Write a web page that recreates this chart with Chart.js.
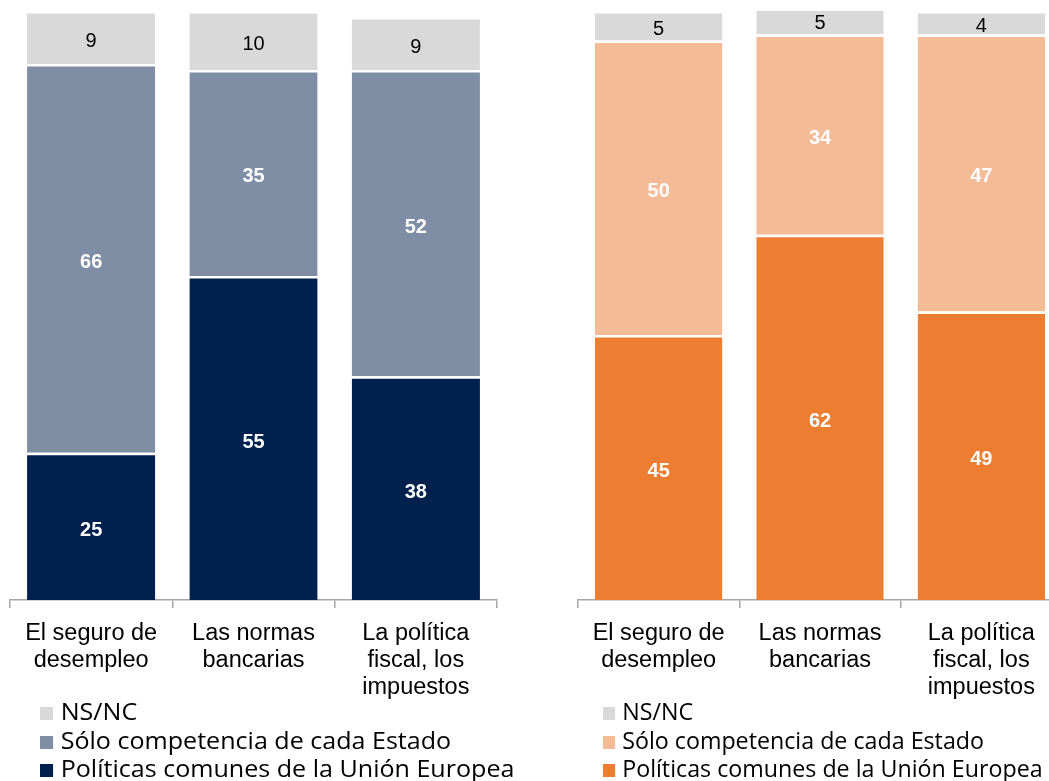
<!DOCTYPE html>
<html>
<head>
    <title>Competencias: UE o Estado</title>
    <meta charset="utf-8">
    <style>
        body {
            margin: 0;
            width: 1049px;
            height: 781px;
            overflow: hidden;
            position: relative;
            background: #fff;
            font-family: "Open Sans", sans-serif;
        }
        .chartBox {
            position: absolute;
            top: 0;
            width: 520px;
            height: 700px;
        }
        .legend {
            position: absolute;
            top: 697px;
            font-size: 23px;
            line-height: 28.5px;
            color: #000;
            transform-origin: left top;
        }
        .legend div {
            white-space: nowrap;
        }
        .legend span {
            display: inline-block;
            width: 12px;
            height: 13px;
            margin-right: 7px;
        }
    </style>
    <script src="https://cdn.jsdelivr.net/npm/chart.js"></script>
</head>
<body>
    <div class="chartBox" style="left:0"><canvas id="left"></canvas></div>
    <div class="chartBox" style="left:560px"><canvas id="right"></canvas></div>
    <div class="legend" id="legendLeft" style="left:40px; transform: scaleX(1.09)"></div>
    <div class="legend" id="legendRight" style="left:603px; transform: scaleX(1.01)"></div>

    <script>
        const categories = [
            ['El seguro de', 'desempleo'],
            ['Las normas', 'bancarias'],
            ['La política', 'fiscal, los', 'impuestos']
        ];
        const seriesNames = ['Políticas comunes de la Unión Europea', 'Sólo competencia de cada Estado', 'NS/NC'];

        // left chart
        const leftUE = [25, 55, 38];
        const leftEstado = [66, 35, 52];
        const leftNsnc = [9, 10, 9];
        // right chart
        const rightUE = [45, 62, 49];
        const rightEstado = [50, 34, 47];
        const rightNsnc = [5, 5, 4];

        const leftColors = ['#00204e', '#7f8ea5', '#d9d9d9'];
        const rightColors = ['#ed7d31', '#f4bb97', '#d9d9d9'];

        // draws the value in the middle of each segment
        const segmentLabels = {
            id: 'segmentLabels',
            afterDatasetsDraw(chart) {
                const ctx = chart.ctx;
                ctx.save();
                ctx.textAlign = 'center';
                ctx.textBaseline = 'middle';
                chart.data.datasets.forEach((ds, i) => {
                    const meta = chart.getDatasetMeta(i);
                    meta.data.forEach((bar, j) => {
                        const p = bar.getProps(['x', 'y', 'base'], true);
                        const y = (p.y + p.base) / 2;
                        if (i === 2) {
                            ctx.fillStyle = '#000';
                            ctx.font = '20px "Liberation Sans", Arial, sans-serif';
                        } else {
                            ctx.fillStyle = '#fff';
                            ctx.font = 'bold 20px "Liberation Sans", Arial, sans-serif';
                        }
                        ctx.fillText(ds.data[j], p.x, y + 4);
                    });
                });
                ctx.restore();
            }
        };

        function makeChart(id, values, colors, padLeft, padRight) {
            const canvas = document.getElementById(id);
            canvas.width = 520;
            canvas.height = 700;
            return new Chart(canvas.getContext('2d'), {
                type: 'bar',
                data: {
                    labels: categories,
                    datasets: values.map((v, i) => ({
                        label: seriesNames[i],
                        data: v,
                        backgroundColor: colors[i],
                        borderColor: '#ffffff',
                        borderWidth: { top: 2.5, left: 0, right: 0, bottom: 0 },
                        barPercentage: 0.79,
                        categoryPercentage: 1
                    }))
                },
                options: {
                    responsive: false,
                    animation: false,
                    devicePixelRatio: 1,
                    layout: {
                        padding: { left: padLeft, right: padRight, top: 11, bottom: 0 }
                    },
                    plugins: {
                        legend: { display: false },
                        tooltip: { enabled: false }
                    },
                    scales: {
                        x: {
                            stacked: true,
                            afterFit(scale) { scale.height = 100; },
                            border: { color: '#a6a6a6', width: 1.5 },
                            grid: {
                                drawOnChartArea: false,
                                drawTicks: true,
                                tickLength: 8,
                                color: '#a6a6a6',
                                lineWidth: 1.5
                            },
                            ticks: {
                                color: '#000',
                                padding: 12,
                                maxRotation: 0,
                                autoSkip: false,
                                font: { family: '"Liberation Sans", Arial, sans-serif', size: 23.5, lineHeight: 1.15 }
                            }
                        },
                        y: {
                            stacked: true,
                            display: false,
                            min: 0,
                            max: 100
                        }
                    }
                },
                plugins: [segmentLabels]
            });
        }

        makeChart('left', [leftUE, leftEstado, leftNsnc], leftColors, 10, 23);
        makeChart('right', [rightUE, rightEstado, rightNsnc], rightColors, 18, 18);

        function buildLegend(id, colors) {
            const el = document.getElementById(id);
            for (let i = seriesNames.length - 1; i >= 0; i--) {
                el.innerHTML += '<div><span style="background:' + colors[i] + '"></span>' + seriesNames[i] + '</div>';
            }
        }
        buildLegend('legendLeft', leftColors);
        buildLegend('legendRight', rightColors);
    </script>
</body>
</html>
